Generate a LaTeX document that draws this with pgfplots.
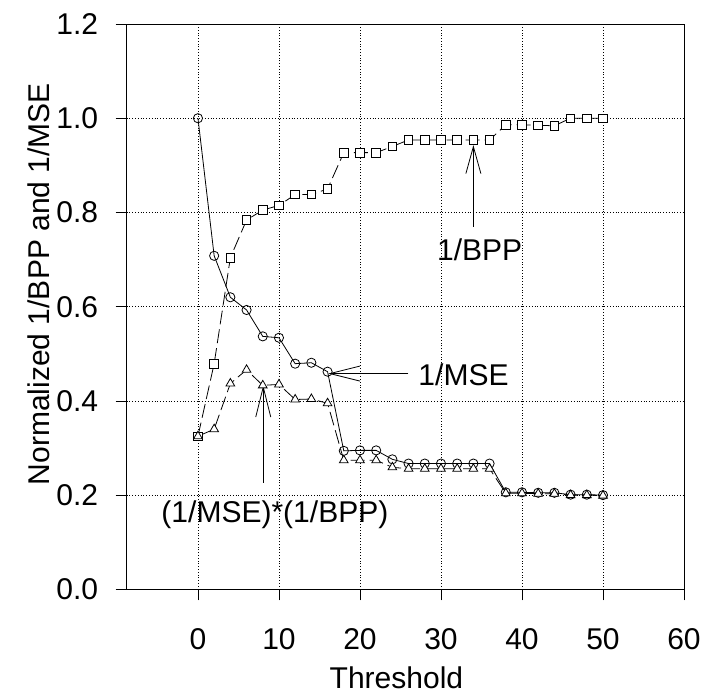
\documentclass[border=0pt]{standalone}
\usepackage{fontspec}
\setmainfont{Liberation Sans}
\usepackage{pgfplots}
\usepackage{pgfplotstable}
\pgfplotsset{compat=1.18}
\usetikzlibrary{arrows.meta}

\pgfplotstableread{
x    mse    bpp    prod
0    1.000  0.325  0.325
2    0.708  0.479  0.340
4    0.620  0.704  0.437
6    0.593  0.784  0.466
8    0.537  0.805  0.433
10   0.534  0.815  0.435
12   0.479  0.838  0.403
14   0.481  0.838  0.404
16   0.462  0.850  0.395
18   0.294  0.927  0.274
20   0.295  0.927  0.274
22   0.295  0.927  0.274
24   0.276  0.940  0.259
26   0.267  0.954  0.256
28   0.267  0.954  0.256
30   0.267  0.954  0.256
32   0.267  0.954  0.256
34   0.267  0.954  0.256
36   0.267  0.954  0.256
38   0.206  0.986  0.204
40   0.206  0.986  0.204
42   0.205  0.985  0.203
44   0.205  0.984  0.203
46   0.201  1.000  0.200
48   0.201  1.000  0.200
50   0.200  1.000  0.199
}\datatable

\begin{document}
\begin{tikzpicture}
\begin{axis}[
  scale only axis,
  width=557bp, height=565bp,
  xmin=-8.8, xmax=60, ymin=0, ymax=1.2,
  xtick={0,10,20,30,40,50,60},
  ytick={0,0.2,0.4,0.6,0.8,1.0,1.2},
  /pgf/number format/assume math mode=true,
  yticklabel style={/pgf/number format/fixed,/pgf/number format/fixed zerofill,/pgf/number format/precision=1, xshift=-14bp},
  xticklabel style={yshift=-25bp},
  tick label style={font=\fontsize{30bp}{36bp}\selectfont},
  label style={font=\fontsize{30bp}{36bp}\selectfont},
  tick align=outside,
  xtick pos=bottom, ytick pos=left,
  major tick length=11bp,
  tick style={black, line width=0.8bp},
  axis line style={line width=0.8bp},
  grid=major,
  major grid style={black, line width=0.8bp, dotted},
  xlabel={Threshold},
  ylabel={Normalized 1/BPP and 1/MSE},
  xlabel style={at={(axis description cs:0.484,-0.175)}, anchor=base, inner sep=0pt},
  ylabel style={at={(axis description cs:-0.158,0.54)}, anchor=center},
  clip=false,
]
\addplot[black, line width=0.8bp, mark=o, mark size=4.6bp, mark options={solid, fill=white}]
  table[x=x, y=mse] {\datatable};
\addplot[black, line width=0.8bp, dash pattern=on 14bp off 5bp, mark=square*, mark size=4.3bp, mark options={solid, fill=white}]
  table[x=x, y=bpp] {\datatable};
\addplot[black, line width=0.8bp, dash pattern=on 14bp off 5bp, mark=triangle*, mark size=5bp, mark options={solid, fill=white}]
  table[x=x, y=prod] {\datatable};

% annotations
\draw[line width=0.8bp, -{Straight Barb[length=27bp, width=15bp, line width=0.8bp]}] (axis cs:34,0.77) -- (axis cs:34,0.943);
\node[anchor=base, font=\fontsize{30bp}{36bp}\selectfont] at (axis cs:34.78,0.699) {1/BPP};
\draw[line width=0.8bp, -{Straight Barb[length=30bp, width=15bp, line width=0.8bp]}] (axis cs:25.96,0.458) -- (axis cs:16.09,0.458);
\node[anchor=base west, inner sep=0pt, font=\fontsize{30bp}{36bp}\selectfont] at (axis cs:27.2,0.433) {1/MSE};
\draw[line width=0.8bp, -{Straight Barb[length=30bp, width=15bp, line width=0.8bp]}] (axis cs:8.06,0.226) -- (axis cs:8.06,0.433);
\node[anchor=base, font=\fontsize{30bp}{36bp}\selectfont] at (axis cs:9.5,0.142) {(1/MSE)*(1/BPP)};

\coordinate (bbBL) at (rel axis cs:-0.2273,-0.1894);
\coordinate (bbTR) at (rel axis cs:1.0305,1.0425);
\end{axis}
\pgfresetboundingbox
\path[use as bounding box] (bbBL) rectangle (bbTR);
\end{tikzpicture}
\end{document}
